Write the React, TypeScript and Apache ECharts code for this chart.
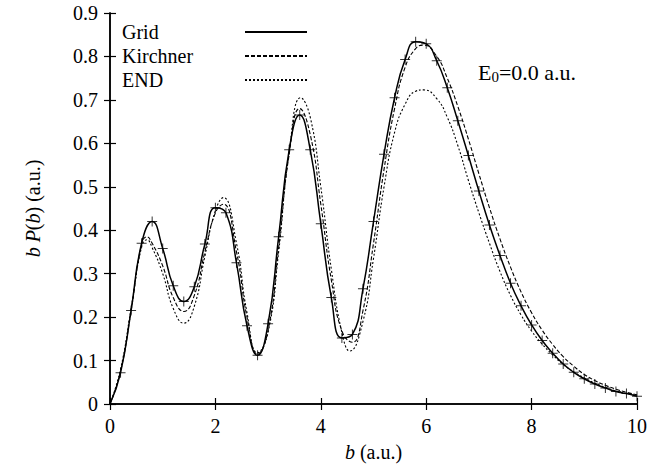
import React, { useEffect, useRef } from "react";
import * as echarts from "echarts";

const gridB = [0, 0.2, 0.4, 0.6, 0.8, 1.0, 1.2, 1.4, 1.6, 1.8, 2.0, 2.2, 2.4, 2.6, 2.8, 3.0, 3.2, 3.4, 3.6, 3.8, 4.0, 4.2, 4.4, 4.6, 4.8, 5.0, 5.2, 5.4, 5.6, 5.8, 6.0, 6.2, 6.4, 6.6, 6.8, 7.0, 7.2, 7.4, 7.6, 7.8, 8.0, 8.2, 8.4, 8.6, 8.8, 9.0, 9.2, 9.4, 9.6, 9.8, 10.0];
const gridValues = [0, 0.072, 0.215, 0.37, 0.42, 0.358, 0.272, 0.236, 0.27, 0.368, 0.452, 0.44, 0.325, 0.18, 0.112, 0.185, 0.385, 0.585, 0.665, 0.585, 0.415, 0.245, 0.152, 0.16, 0.265, 0.42, 0.575, 0.705, 0.793, 0.834, 0.829, 0.79, 0.728, 0.652, 0.572, 0.49, 0.412, 0.342, 0.278, 0.226, 0.182, 0.146, 0.117, 0.092, 0.073, 0.058, 0.046, 0.037, 0.029, 0.024, 0.018];

const kirchnerB = [0, 0.2, 0.4, 0.6, 0.7, 0.8, 1.0, 1.2, 1.4, 1.6, 1.8, 2.0, 2.15, 2.4, 2.6, 2.8, 3.0, 3.2, 3.4, 3.6, 3.8, 4.0, 4.2, 4.4, 4.6, 4.8, 5.0, 5.2, 5.4, 5.6, 5.8, 5.95, 6.2, 6.4, 6.6, 6.8, 7.0, 7.2, 7.4, 7.6, 7.8, 8.0, 8.2, 8.4, 8.6, 8.8, 9.0, 9.2, 9.4, 9.6, 9.8, 10.0];
const kirchnerValues = [0, 0.075, 0.215, 0.368, 0.385, 0.37, 0.318, 0.245, 0.213, 0.25, 0.35, 0.44, 0.46, 0.35, 0.2, 0.115, 0.17, 0.36, 0.575, 0.68, 0.62, 0.46, 0.285, 0.168, 0.142, 0.215, 0.37, 0.54, 0.68, 0.775, 0.818, 0.826, 0.8, 0.75, 0.685, 0.61, 0.53, 0.452, 0.38, 0.315, 0.258, 0.21, 0.17, 0.137, 0.109, 0.087, 0.068, 0.054, 0.043, 0.034, 0.027, 0.021];

const endB = [0, 0.2, 0.4, 0.6, 0.7, 0.8, 1.0, 1.2, 1.4, 1.6, 1.8, 2.0, 2.15, 2.4, 2.6, 2.8, 3.0, 3.2, 3.4, 3.62, 3.8, 4.0, 4.2, 4.4, 4.55, 4.8, 5.0, 5.2, 5.4, 5.6, 5.8, 5.95, 6.2, 6.4, 6.6, 6.8, 7.0, 7.2, 7.4, 7.6, 7.8, 8.0, 8.2, 8.4, 8.6, 8.8, 9.0, 9.2, 9.4, 9.6, 9.8, 10.0];
const endValues = [0, 0.08, 0.22, 0.362, 0.378, 0.36, 0.3, 0.22, 0.186, 0.225, 0.34, 0.445, 0.475, 0.37, 0.21, 0.118, 0.165, 0.35, 0.58, 0.705, 0.66, 0.5, 0.31, 0.165, 0.122, 0.19, 0.335, 0.5, 0.625, 0.69, 0.72, 0.723, 0.703, 0.66, 0.595, 0.515, 0.44, 0.37, 0.305, 0.25, 0.205, 0.168, 0.138, 0.113, 0.091, 0.074, 0.06, 0.048, 0.038, 0.03, 0.024, 0.019];

const seriesNames = ["Grid", "Kirchner", "END"];

const FONT = "Liberation Serif";
const FS = 20;

const pairs = (xs: number[], ys: number[]) => xs.map((b, i) => [b, ys[i]]);

const PLUS = "path://M4.5,0 L5.5,0 L5.5,4.5 L10,4.5 L10,5.5 L5.5,5.5 L5.5,10 L4.5,10 L4.5,5.5 L0,5.5 L0,4.5 L4.5,4.5 Z";

export default function App() {
  const ref = useRef<HTMLDivElement>(null);
  useEffect(() => {
    if (!ref.current) return;
    const chart = echarts.init(ref.current, null, { renderer: "svg" });
    const axisCommon = {
      type: "value" as const,
      axisLine: { show: true, lineStyle: { color: "#000", width: 1.5 } },
      axisTick: { show: true, inside: true, length: 6, lineStyle: { color: "#000", width: 1.2 } },
      splitLine: { show: false },
    };
    chart.setOption({
      animation: false,
      backgroundColor: "#fff",
      grid: { left: 110, right: 13, top: 13, bottom: 70, containLabel: false },
      xAxis: [
        {
          ...axisCommon,
          position: "bottom",
          min: 0,
          max: 10,
          interval: 2,
          name: "{i|b} (a.u.)",
          nameLocation: "middle",
          nameGap: 38,
          nameTextStyle: {
            fontFamily: FONT,
            fontSize: FS,
            color: "#000",
            rich: { i: { fontStyle: "italic", fontFamily: FONT, fontSize: FS, color: "#000" } },
          },
          axisLabel: { fontFamily: FONT, fontSize: FS, color: "#000", margin: 12 },
        },
        {
          ...axisCommon,
          position: "top",
          min: 0,
          max: 10,
          interval: 2,
          axisLabel: { show: false },
        },
      ],
      yAxis: [
        {
          ...axisCommon,
          position: "left",
          min: 0,
          max: 0.9,
          interval: 0.1,
          name: "{i|b P}{n|(}{i|b}{n|) (a.u.)}",
          nameLocation: "middle",
          nameGap: 67,
          nameRotate: 90,
          nameTextStyle: {
            fontFamily: FONT,
            fontSize: FS,
            color: "#000",
            rich: {
              i: { fontStyle: "italic", fontFamily: FONT, fontSize: FS, color: "#000" },
              n: { fontFamily: FONT, fontSize: FS, color: "#000" },
            },
          },
          axisLabel: { fontFamily: FONT, fontSize: FS, color: "#000", margin: 12 },
        },
        {
          ...axisCommon,
          position: "right",
          min: 0,
          max: 0.9,
          interval: 0.1,
          axisLabel: { show: false },
        },
      ],
      legend: {
        data: seriesNames,
        orient: "vertical",
        left: 117,
        top: 17,
        align: "right",
        itemWidth: 62,
        itemHeight: 12,
        itemGap: 4,
        formatter: "{a|{name}}",
        itemStyle: { color: "rgba(0,0,0,0)", borderWidth: 0 },
        textStyle: {
          fontFamily: FONT,
          fontSize: FS,
          color: "#000",
          rich: { a: { width: 118, align: "left", fontFamily: FONT, fontSize: FS, color: "#000" } },
        },
        selectedMode: false,
      },
      graphic: [
        {
          type: "text",
          left: 478,
          top: 61,
          style: {
            text: "{e|E}{s|0}{e|=0.0 a.u.}",
            fill: "#000",
            rich: {
              e: { fontFamily: FONT, fontSize: 22, fill: "#000" },
              s: { fontFamily: FONT, fontSize: 15, fill: "#000", verticalAlign: "bottom", padding: [9, 0, 0, 0] },
            },
          },
        },
      ],
      series: [
        {
          name: seriesNames[0],
          type: "line",
          data: pairs(gridB, gridValues),
          smooth: true,
          symbol: "none",
          lineStyle: { color: "#000", width: 1.5 },
          itemStyle: { color: "#000" },
        },
        {
          name: seriesNames[1],
          type: "line",
          data: pairs(kirchnerB, kirchnerValues),
          smooth: true,
          symbol: "none",
          lineStyle: { color: "#000", width: 1.1, type: [4, 2] },
          itemStyle: { color: "#000" },
        },
        {
          name: seriesNames[2],
          type: "line",
          data: pairs(endB, endValues),
          smooth: true,
          symbol: "none",
          lineStyle: { color: "#000", width: 1.1, type: [2, 2] },
          itemStyle: { color: "#000" },
        },
        {
          name: "GridPoints",
          type: "scatter",
          data: pairs(gridB, gridValues).slice(1),
          symbol: PLUS,
          symbolSize: 10,
          itemStyle: { color: "#000" },
          z: 3,
        },
      ],
    });
    return () => chart.dispose();
  }, []);
  return <div ref={ref} style={{ width: 650, height: 474, position: "absolute", left: 0, top: 0 }} />;
}
